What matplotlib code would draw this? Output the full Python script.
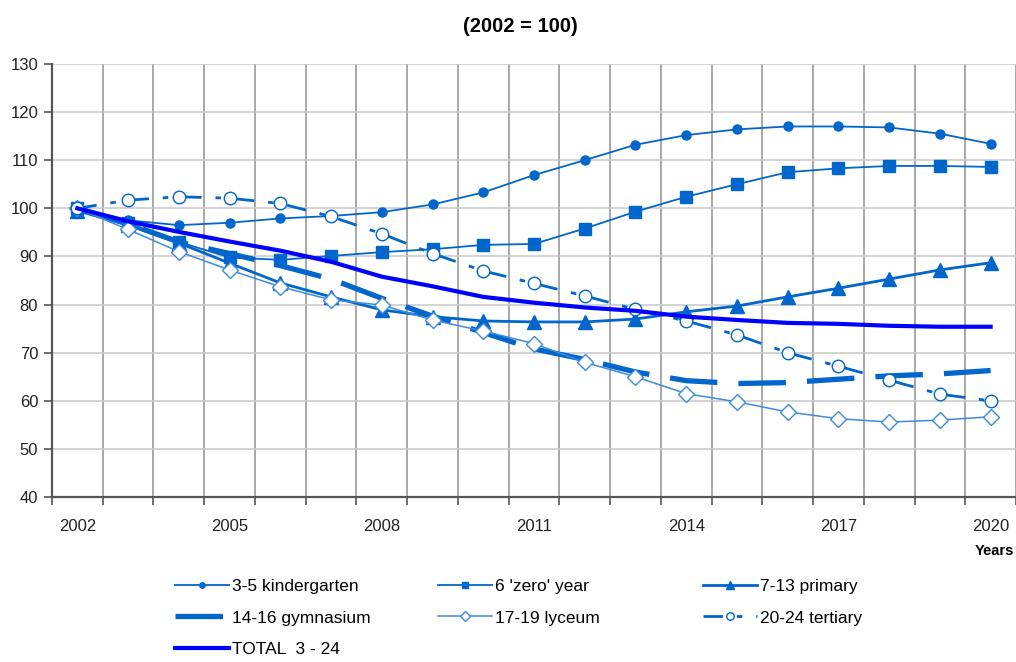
import numpy as np
import matplotlib.pyplot as plt

plt.rcParams['font.family'] = ['Liberation Sans', 'DejaVu Sans']

years = list(range(2002, 2021))
kindergarten = [100, 97.5, 96.5, 97.0, 97.9, 98.4, 99.2, 100.8, 103.3, 106.9, 110.0,
                113.2, 115.2, 116.4, 117.0, 117.0, 116.8, 115.5, 113.4]
zero_year = [100, 97.0, 93.0, 89.8, 89.3, 90.1, 90.9, 91.5, 92.4, 92.6, 95.8,
             99.3, 102.4, 105.0, 107.5, 108.3, 108.8, 108.8, 108.6]
primary = [99.5, 96.5, 92.8, 88.6, 84.5, 81.6, 78.9, 77.5, 76.6, 76.4, 76.4,
           77.0, 78.5, 79.7, 81.6, 83.4, 85.3, 87.2, 88.7]
gymnasium = [100, 96.8, 93.0, 90.6, 88.1, 85.3, 81.3, 77.6, 74.2, 70.8, 68.6,
             66.0, 64.2, 63.6, 63.8, 64.5, 65.2, 65.6, 66.3]
lyceum = [100, 95.6, 91.0, 87.2, 83.7, 81.0, 79.9, 76.8, 74.5, 71.9, 68.0,
          65.0, 61.5, 59.8, 57.7, 56.3, 55.6, 56.0, 56.7]
tertiary = [100, 101.7, 102.4, 102.1, 101.0, 98.3, 94.7, 90.6, 87.0, 84.4, 81.8,
            79.0, 76.6, 73.7, 70.0, 67.2, 64.3, 61.4, 60.0]
total = [100, 97.3, 95.1, 93.1, 91.2, 88.9, 85.8, 83.8, 81.6, 80.4, 79.4,
         78.7, 77.5, 76.8, 76.2, 76.0, 75.6, 75.4, 75.4]

year_labels = [2002, 2005, 2008, 2011, 2014, 2017, 2020]

c = '#0066CC'
fig = plt.figure(figsize=(10.16, 6.62), dpi=100)
ax = fig.add_axes([0.0512, 0.249, 0.9488, 0.6545])

h_kg, = ax.plot(years, kindergarten, color=c, lw=1.3, marker='o', ms=6.5,
                mfc=c, mec=c, label='3-5 kindergarten')
h_zy, = ax.plot(years, zero_year, color=c, lw=1.3, marker='s', ms=8,
                mfc=c, mec=c, label="6 'zero' year")
h_pr, = ax.plot(years, primary, color=c, lw=2, marker='^', ms=10,
                mfc=c, mec=c, label='7-13 primary')
h_gy, = ax.plot(years, gymnasium, color=c, lw=3.8, dashes=(9, 4),
                label='14-16 gymnasium')
h_ly, = ax.plot(years, lyceum, color='#3d8be0', lw=1.1, marker='D', ms=8.5,
                mfc='white', mec='#3d8be0', label='17-19 lyceum')
h_te, = ax.plot(years, tertiary, color=c, lw=2, dashes=(7, 5, 2, 5),
                marker='o', ms=9, mfc='white', mec=c, label='20-24 tertiary')
h_to, = ax.plot(years, total, color='#0000FF', lw=3, label='TOTAL  3 - 24')

ax.set_xlim(2001.5, 2020.5)
ax.set_ylim(40, 130)
ax.set_yticks(np.arange(40, 131, 10))
ax.set_xticks(year_labels)
ax.set_xticks(np.arange(2001.5, 2020.6, 1), minor=True)
ax.tick_params(axis='x', which='major', length=0, pad=16, labelsize=12, colors='#222222')
ax.tick_params(axis='x', which='minor', length=6, width=1.2, direction='out', color='#555555')
ax.tick_params(axis='y', length=6, width=1.2, direction='out', color='#555555',
               labelsize=12, labelcolor='#222222', pad=4)
ax.grid(axis='y', which='major', color='#cccccc', lw=1.2)
ax.grid(axis='x', which='minor', color='#999999', lw=1.2)
ax.set_axisbelow(True)
for s in ['top', 'right']:
    ax.spines[s].set_visible(False)
for s in ['left', 'bottom']:
    ax.spines[s].set_color('#555555')
    ax.spines[s].set_linewidth(1.6)

fig.text(0.512, 0.96, '(2002 = 100)', ha='center', va='center',
         fontsize=14.5, fontweight='bold')
fig.text(0.998, 0.168, 'Years', ha='right', va='center', fontsize=10.5, fontweight='bold')

columns = [([h_kg, h_gy, h_to], 175), ([h_zy, h_ly], 438), ([h_pr, h_te], 703)]
for hs, x0 in columns:
    fig.legend(handles=hs, labels=[h.get_label() for h in hs],
               loc='upper left', bbox_to_anchor=(x0 / 1016, 0.125), frameon=False,
               fontsize=12.5, handlelength=3.1, handletextpad=0.2, labelspacing=0.92,
               borderpad=0, borderaxespad=0, markerscale=0.6)

fig.savefig('out.png', dpi=100)
